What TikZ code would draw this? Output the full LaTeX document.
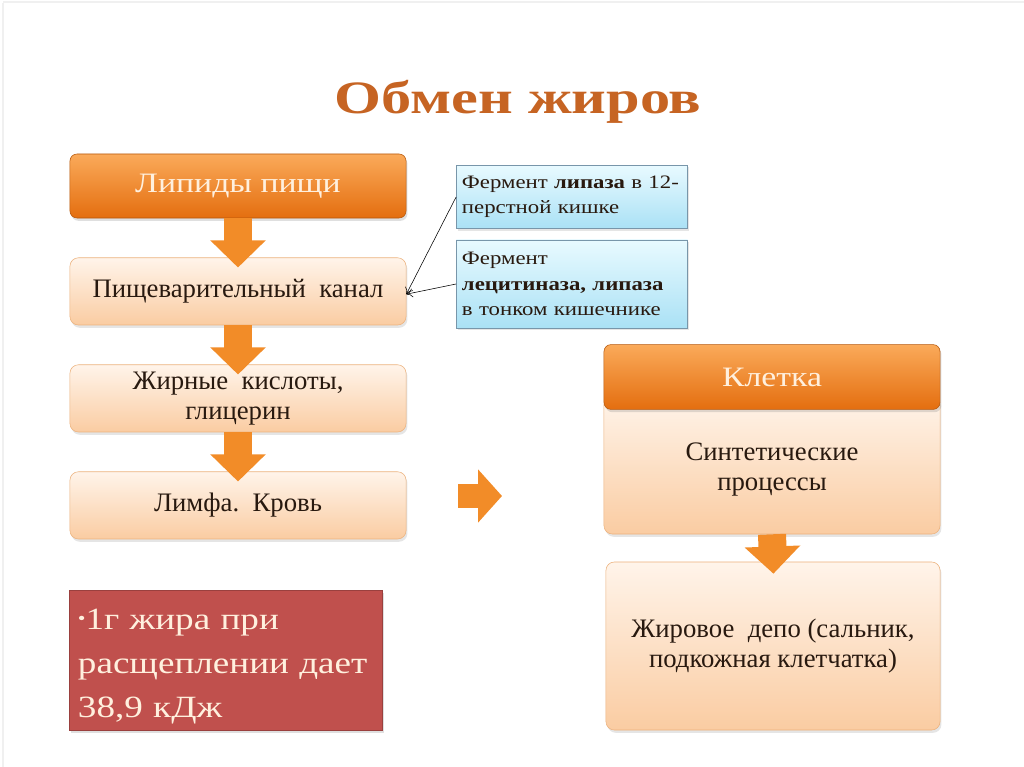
\documentclass[tikz,border=0pt]{standalone}
\usepackage{fontspec}
\setmainfont{Liberation Serif}
\usepackage{tikz}
\usetikzlibrary{arrows.meta,positioning,shadows}
\definecolor{hdtop}{RGB}{250,170,90}
\definecolor{hdbot}{RGB}{228,110,15}
\definecolor{pchtop}{RGB}{255,244,234}
\definecolor{pchbot}{RGB}{250,204,162}
\definecolor{pchline}{RGB}{236,178,125}
\definecolor{bltop}{RGB}{232,250,255}
\definecolor{blbot}{RGB}{170,225,245}
\definecolor{blline}{RGB}{120,150,170}
\definecolor{redbox}{RGB}{192,80,77}
\definecolor{arrorange}{RGB}{242,140,40}
\definecolor{ttl}{RGB}{198,100,35}
\definecolor{cream}{RGB}{255,240,222}
\definecolor{ink}{RGB}{40,25,15}
\newfontfamily\widefont[FakeStretch=1.2]{Liberation Serif}
\newfontfamily\ttlfont[FakeStretch=1.3]{Liberation Serif}
\tikzset{
  hdr/.style={rectangle,rounded corners=5pt,top color=hdtop,bottom color=hdbot,
    draw=hdbot!80!black,thin,text=cream,font=\widefont\fontsize{20}{24}\selectfont,
    minimum width=8.4cm,minimum height=1.6cm,align=center,
    drop shadow={opacity=0.25,shadow xshift=1pt,shadow yshift=-2pt}},
  pch/.style={rectangle,rounded corners=6pt,top color=pchtop,bottom color=pchbot,
    draw=pchline,thin,text=ink,font=\fontsize{19}{21.5}\selectfont,
    minimum width=8.4cm,minimum height=1.68cm,align=center,
    drop shadow={opacity=0.2,shadow xshift=1pt,shadow yshift=-2pt}},
  enz/.style={rectangle,top color=bltop,bottom color=blbot,draw=blline,thin,
    text=ink,font=\widefont\fontsize{13.5}{18}\selectfont,text width=5.5cm,
    align=left,minimum width=5.78cm,inner sep=3pt,
    drop shadow={opacity=0.2,shadow xshift=1pt,shadow yshift=-1.5pt}},
  fat/.style={rectangle,fill=redbox,draw=redbox!80!black,thin,text=cream,
    font=\widefont\fontsize{22}{31}\selectfont,text width=7.4cm,align=left,
    minimum width=7.83cm,minimum height=3.5cm,inner xsep=6pt,inner ysep=3pt,
    drop shadow={opacity=0.25,shadow xshift=1pt,shadow yshift=-2pt}},
  flow/.style={-{Triangle[length=0.68cm,width=1.35cm]},line width=0.7cm,
    draw=arrorange},
  lnk/.style={-{To[length=1.6mm,width=2.2mm]},thin,black}
}
\begin{document}
\begin{tikzpicture}[x=0.025cm,y=-0.025cm,node distance=0.98cm]
\useasboundingbox (0,0) rectangle (1024,767);
\fill[white] (0,0) rectangle (1024,767);
\draw[gray!12,line width=1.5pt] (3,3) -- (3,767);
\draw[gray!12,line width=1.5pt] (3,2) -- (1024,2);

% title
\node[font=\ttlfont\bfseries\fontsize{33}{38}\selectfont,text=ttl] (title)
  at (518,102) {Обмен жиров};

% ---------------- left column ----------------
\node[hdr] (lip) at (238,186) {Липиды пищи};
\node[pch,below=of lip] (kan) {Пищеварительный\ \ канал};
\node[pch,below=of kan] (fa) {Жирные\ \ кислоты,\\ глицерин};
\node[pch,below=of fa] (lym) {Лимфа.\ \ Кровь};

\draw[flow,shorten >=-0.25cm] (lip.south) -- (kan.north);
\draw[flow,shorten >=-0.25cm] (kan.south) -- (fa.north);
\draw[flow,shorten >=-0.25cm] (fa.south) -- (lym.north);

% ---------------- enzymes ----------------
\node[enz,minimum height=1.58cm] (en1) at (572,197)
  {Фермент \textbf{липаза} в 12-\\ перстной кишке};
\node[enz,minimum height=2.2cm] (en2) at (572,284)
  {Фермент\\ \textbf{лецитиназа, липаза}\\ в тонком кишечнике};
\draw[lnk] (en1.west) -- ([yshift=-2pt]kan.east);
\draw[lnk] (en2.west) -- ([yshift=-2pt]kan.east);

% ---------------- cell ----------------
\coordinate (ra) at (458,496);
\coordinate (rb) at (502,496);
\draw[-{Triangle[length=0.6cm,width=1.3cm]},line width=0.62cm,draw=arrorange]
  (ra) -- (rb);

\node[pch,minimum width=8.4cm,minimum height=3.45cm] (syn) at (772,465)
  {\\[-2pt]Синтетические\\ процессы};
\node[hdr,minimum height=1.62cm] (cell) at (772,377) {Клетка};
\node[pch,minimum width=8.35cm,minimum height=4.2cm] (dep) at (773,646)
  {Жировое\ \ депо (сальник,\\ подкожная клетчатка)};
\draw[flow,shorten >=-0.3cm] (syn.south) -- (dep.north);

% ---------------- energy ----------------
\node[fat] (kj) at (226,660)
  {\rule{0pt}{24pt}{\fontsize{13}{13}\selectfont\raisebox{4pt}{\textbullet}}1г жира при\\
   расщеплении дает\\ 38,9 кДж};
\end{tikzpicture}
\end{document}
